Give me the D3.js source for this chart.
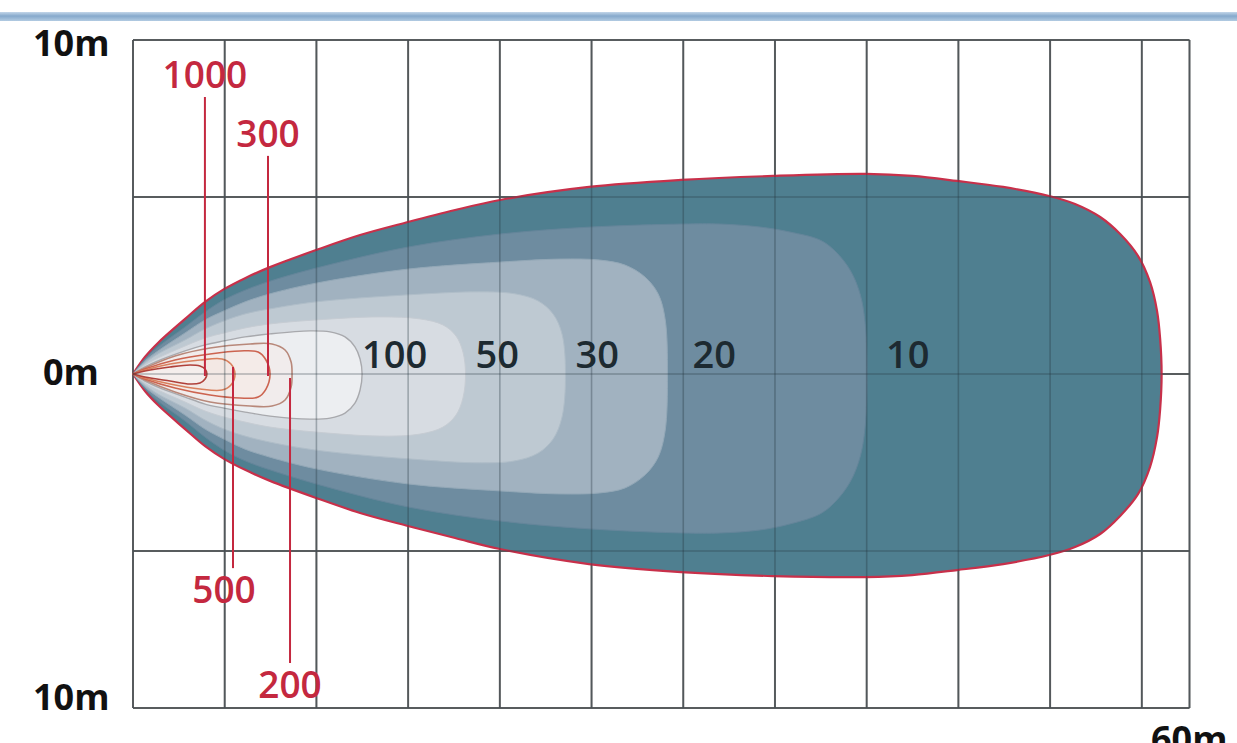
<!DOCTYPE html>
<html><head><meta charset="utf-8">
<script src="https://cdn.jsdelivr.net/npm/d3@7"></script>
<style>html,body{margin:0;padding:0;background:#fff;overflow:hidden}</style>
</head><body>
<svg id="c" width="1237" height="743"></svg>
<script>
// ---------- data (metres; y = half-width of the beam above / below the axis) ----------
const X_GRID = [5,10,15,20,25,30,35,40,45,50,55];
const Y_GRID = [-5.3, 0, 5.3];
const X_EXTENT = [0, 57.6];
const Y_EXTENT = [-10, 10];
const Y_LABELS = ["10m", "0m", "10m"];
const Y_LABEL_VALUES = [10, 0, -10];
const X_END_LABEL = "60m";

const EDGE_UPPER = [[0.65,0.51],[1.36,0.93],[2.84,1.65],[3.93,2.16],[4.96,2.54],[6.11,2.87],[7.47,3.20],[9.98,3.71],[12.38,4.16],[14.99,4.55],[17.56,4.91],[20.01,5.21],[24.86,5.60],[29.88,5.81],[34.90,5.93],[39.97,5.99],[42.48,5.93],[44.93,5.78],[47.44,5.60],[49.95,5.33],[51.36,5.09],[52.73,4.70],[53.82,4.19],[54.80,3.53],[55.45,2.75],[55.83,1.89],[56.00,1.05],[56.08,0]];
const EDGE_LOWER = [[0.65,0.51],[1.36,0.93],[2.84,1.65],[3.93,2.16],[4.96,2.54],[6.11,2.87],[7.47,3.20],[9.98,3.71],[12.38,4.16],[14.99,4.55],[17.56,4.91],[20.01,5.24],[24.86,5.69],[29.88,5.93],[34.90,6.05],[39.97,6.08],[42.48,6.02],[44.93,5.87],[47.44,5.69],[49.95,5.42],[51.36,5.18],[52.73,4.79],[53.82,4.25],[54.80,3.59],[55.45,2.78],[55.83,1.89],[56.00,1.05]];
const LUX10_UPPER = [[0.65,0.45],[1.36,0.81],[2.84,1.41],[3.93,1.86],[4.96,2.22],[6.11,2.51],[7.47,2.78],[9.98,3.17],[14.99,3.80],[20.01,4.19],[24.97,4.40],[29.99,4.49],[32.01,4.49],[34.19,4.40],[35.82,4.25],[37.46,4.01],[38.28,3.68],[39.10,3.11],[39.64,2.40],[39.92,1.50],[40.02,0]];
const LUX10_LOWER = [[0.65,0.45],[1.36,0.81],[2.84,1.41],[3.93,1.89],[4.96,2.28],[6.11,2.60],[7.47,2.87],[9.98,3.29],[14.99,3.98],[20.01,4.40],[24.97,4.64],[29.99,4.76],[32.01,4.76],[34.19,4.67],[35.82,4.49],[37.46,4.19],[38.28,3.83],[39.10,3.23],[39.64,2.49],[39.92,1.56]];
const LUX20_UPPER = [[0.65,0.39],[1.36,0.69],[2.84,1.23],[3.93,1.62],[4.96,1.89],[6.11,2.16],[7.47,2.40],[9.98,2.72],[14.99,3.14],[20.01,3.35],[23.28,3.44],[25.46,3.41],[26.83,3.26],[27.92,2.90],[28.63,2.40],[29.01,1.65],[29.14,0]];
const LUX20_LOWER = [[0.65,0.39],[1.36,0.69],[2.84,1.23],[3.93,1.65],[4.96,1.95],[6.11,2.25],[7.47,2.49],[9.98,2.84],[14.99,3.29],[20.01,3.50],[23.28,3.59],[25.46,3.56],[26.83,3.41],[27.92,3.02],[28.63,2.49],[29.01,1.71]];
const LUX30_UPPER = [[0.65,0.33],[1.36,0.60],[2.84,1.02],[3.93,1.35],[4.96,1.59],[6.11,1.80],[7.47,1.95],[9.98,2.16],[14.99,2.37],[18.92,2.46],[20.83,2.40],[22.08,2.19],[22.90,1.80],[23.39,1.20],[23.58,0]];
const LUX30_LOWER = [[0.65,0.33],[1.36,0.60],[2.84,1.02],[3.93,1.38],[4.96,1.65],[6.11,1.86],[7.47,2.04],[9.98,2.28],[14.99,2.54],[18.92,2.66],[20.83,2.60],[22.08,2.37],[22.90,1.95],[23.39,1.29]];
const LUX50_UPPER = [[0.65,0.27],[1.36,0.48],[2.84,0.84],[3.93,1.08],[4.96,1.23],[6.11,1.38],[7.47,1.50],[9.98,1.62],[13.47,1.71],[15.65,1.65],[16.90,1.47],[17.61,1.14],[17.99,0.66],[18.13,0]];
const LUX50_LOWER = [[0.65,0.27],[1.36,0.48],[2.84,0.84],[3.93,1.11],[4.96,1.29],[6.11,1.44],[7.47,1.59],[9.98,1.74],[13.47,1.86],[15.65,1.80],[16.90,1.59],[17.61,1.23],[17.99,0.72]];
const LUX100_UPPER = [[0.65,0.21],[1.36,0.39],[2.84,0.69],[3.93,0.87],[4.96,0.99],[6.11,1.11],[7.47,1.20],[9.65,1.29],[10.74,1.26],[11.56,1.11],[12.10,0.81],[12.38,0.45],[12.49,0]];
const LUX100_LOWER = [[0.65,0.21],[1.36,0.39],[2.84,0.69],[3.93,0.90],[4.96,1.02],[6.11,1.14],[7.47,1.26],[9.65,1.35],[10.74,1.32],[11.56,1.17],[12.10,0.87],[12.38,0.48]];
const LUX200_UPPER = [[0.65,0.18],[2.29,0.54],[4.20,0.78],[6.38,0.90],[7.58,0.90],[8.29,0.72],[8.62,0.36],[8.67,0]];
const LUX200_LOWER = [[0.65,0.18],[2.29,0.54],[4.20,0.84],[6.38,0.96],[7.58,0.96],[8.29,0.78],[8.62,0.39]];
const LUX300_UPPER = [[0.65,0.15],[2.29,0.42],[4.20,0.60],[5.83,0.69],[6.82,0.66],[7.25,0.42],[7.47,0]];
const LUX300_LOWER = [[0.65,0.15],[2.29,0.42],[4.20,0.63],[5.83,0.72],[6.82,0.69],[7.25,0.45]];
const LUX500_UPPER = [[0.65,0.12],[2.02,0.30],[3.65,0.42],[4.85,0.45],[5.34,0.30],[5.56,0]];
const LUX500_LOWER = [[0.65,0.12],[2.02,0.30],[3.65,0.45],[4.85,0.48],[5.34,0.33]];
const LUX1000_UPPER = [[0.65,0.09],[2.02,0.21],[3.11,0.27],[3.65,0.24],[3.93,0.15],[4.03,0]];
const LUX1000_LOWER = [[0.65,0.09],[2.02,0.21],[3.11,0.30],[3.65,0.27],[3.93,0.15]];

const INLINE_LABELS = ["100", "50", "30", "20", "10"];
const CALLOUT_LABELS = ["1000", "300", "500", "200"];
const CALLOUT_TEXT_Y = [8.56, 6.80, -6.86, -9.70];

// ---------- drawing ----------
const W = 1237, H = 743;
const svg = d3.select("#c");
const x = d3.scaleLinear().domain(X_EXTENT).range([133, 1189.5]);
const y = d3.scaleLinear().domain(Y_EXTENT).range([708, 40]);

const contours = [
  {key:"edge", up:EDGE_UPPER, lo:EDGE_LOWER, fill:"#4f7f90", stroke:"#c8304a", sw:2.2},
  {key:"10",   up:LUX10_UPPER, lo:LUX10_LOWER, fill:"#6e8ca0", stroke:"#64859a", sw:1},
  {key:"20",   up:LUX20_UPPER, lo:LUX20_LOWER, fill:"#a1b2c0", stroke:"#93a8b7", sw:1},
  {key:"30",   up:LUX30_UPPER, lo:LUX30_LOWER, fill:"#bec9d2", stroke:"#afbdc8", sw:1},
  {key:"50",   up:LUX50_UPPER, lo:LUX50_LOWER, fill:"#d7dce2", stroke:"#c6ccd3", sw:1},
  {key:"100",  up:LUX100_UPPER, lo:LUX100_LOWER, fill:"#eceef1", stroke:"#a8a9ad", sw:1.4},
  {key:"200",  up:LUX200_UPPER, lo:LUX200_LOWER, fill:"#f1ecec", stroke:"#b8887a", sw:1.6},
  {key:"300",  up:LUX300_UPPER, lo:LUX300_LOWER, fill:"#f4ebe8", stroke:"#cc6450", sw:1.6},
  {key:"500",  up:LUX500_UPPER, lo:LUX500_LOWER, fill:"#f3e8e4", stroke:"#d9805e", sw:1.6},
  {key:"1000", up:LUX1000_UPPER, lo:LUX1000_LOWER, fill:"#f5eeec", stroke:"#b0403a", sw:1.6}
];
const byKey = Object.fromEntries(contours.map(c => [c.key, c]));
const tipOf = c => c.up[c.up.length - 1][0];

// top band
const defs = svg.append("defs");
const g1 = defs.append("linearGradient").attr("id","band").attr("x1",0).attr("x2",0).attr("y1",0).attr("y2",1);
[["0","#c3d6e9"],["0.45","#86a9cc"],["1","#b2cbe2"]].forEach(s => g1.append("stop").attr("offset",s[0]).attr("stop-color",s[1]));
svg.append("rect").attr("x",0).attr("y",12).attr("width",W).attr("height",9).attr("fill","url(#band)");

// grid
function drawGrid(g, color, width, opacity){
  g.selectAll(".v").data([X_EXTENT[0], ...X_GRID, X_EXTENT[1]]).join("line")
    .attr("x1", d => x(d)).attr("x2", d => x(d)).attr("y1", y(Y_EXTENT[1])).attr("y2", y(Y_EXTENT[0]))
    .attr("stroke", color).attr("stroke-width", width).attr("opacity", opacity);
  g.selectAll(".h").data([Y_EXTENT[0], ...Y_GRID, Y_EXTENT[1]]).join("line")
    .attr("x1", x(X_EXTENT[0])).attr("x2", x(X_EXTENT[1])).attr("y1", d => y(d)).attr("y2", d => y(d))
    .attr("stroke", color).attr("stroke-width", width).attr("opacity", opacity);
}
drawGrid(svg.append("g"), "#6a6a6a", 2, 1);

// contours
const line = d3.line().x(d => x(d[0])).y(d => y(d[1])).curve(d3.curveCatmullRom.alpha(0.5));
function outline(c){
  const pts = [[0,0], ...c.up, ...c.lo.map(p => [p[0], -p[1]]).reverse(), [0,0]];
  return line(pts) + "Z";
}
svg.append("g").selectAll("path").data(contours).join("path")
  .attr("d", outline).attr("fill", d => d.fill).attr("stroke", d => d.stroke)
  .attr("stroke-width", d => d.sw).attr("stroke-linejoin","round");

// grid over the beam, faint
drawGrid(svg.append("g"), "#23333c", 1.6, 0.32);

// inline labels
const inlineNudge = {"100":0, "50":10, "30":10, "20":25, "10":19};
svg.append("g").selectAll("text").data(INLINE_LABELS).join("text")
  .attr("x", d => x(tipOf(byKey[d])) + inlineNudge[d])
  .attr("y", y(0) - 6)
  .attr("font-family", "'Open Sans', sans-serif").attr("font-weight", 600)
  .attr("font-size", 38).attr("fill", "#1d2a31").text(d => d);

// callouts with leader lines
const red = "#c4283f";
const callG = svg.append("g");
CALLOUT_LABELS.forEach((lab, i) => {
  const c = byKey[lab];
  const lx = x(tipOf(c)) - 2;
  const ty = y(CALLOUT_TEXT_Y[i]);
  const above = CALLOUT_TEXT_Y[i] > 0;
  const cx = lab === "500" ? lx - 9 : lx;
  const yA = above ? ty + 9 : ty - 35;
  const yB = above ? y(0) + 2 : (lab === "500" ? y(0) - 7 : y(0) + 4);
  callG.append("line").attr("x1", lx).attr("x2", lx).attr("y1", yA).attr("y2", yB)
    .attr("stroke", red).attr("stroke-width", 2);
  callG.append("text").attr("x", cx).attr("y", ty).attr("text-anchor","middle")
    .attr("font-family", "'Open Sans', sans-serif").attr("font-weight", 600)
    .attr("font-size", 37).attr("fill", red).text(lab);
});

// axis labels
const axG = svg.append("g").attr("font-family","'Open Sans', sans-serif").attr("font-weight",700)
  .attr("font-size",36).attr("fill","#111");
const yNudge = [16, 11, 2];
const xNudge = [-100, -90, -100];
Y_LABELS.forEach((t, i) => {
  axG.append("text").attr("x", x(0) + xNudge[i]).attr("y", y(Y_LABEL_VALUES[i]) + yNudge[i]).text(t);
});
axG.append("text").attr("x", x(X_EXTENT[1]) + 38).attr("y", y(Y_EXTENT[0]) + 44)
  .attr("text-anchor","end").text(X_END_LABEL);
</script>
</body></html>
